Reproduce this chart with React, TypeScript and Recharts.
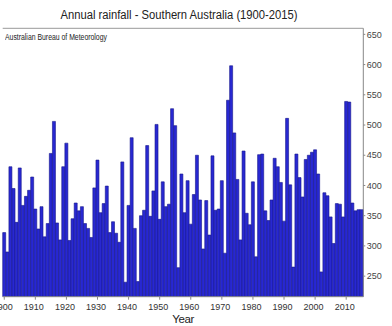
import React from "react";
import { BarChart, Bar, XAxis, YAxis, ReferenceLine } from "recharts";

// annual rainfall (mm), one array per decade
const firstYear = 1900;
const rain1900s = [322, 290, 431, 395, 339, 429, 367, 382, 392, 414];
const rain1910s = [361, 328, 365, 315, 337, 453, 506, 338, 310, 431];
const rain1920s = [470, 309, 345, 371, 358, 365, 337, 329, 314, 396];
const rain1930s = [442, 355, 370, 399, 322, 340, 321, 306, 439, 240];
const rain1940s = [367, 479, 329, 241, 350, 359, 466, 349, 391, 501];
const rain1950s = [344, 406, 365, 369, 527, 499, 264, 419, 355, 408];
const rain1960s = [336, 385, 450, 376, 295, 375, 318, 449, 359, 361];
const rain1970s = [408, 288, 541, 598, 487, 410, 310, 457, 354, 335];
const rain1980s = [406, 282, 451, 452, 358, 342, 376, 445, 431, 405];
const rain1990s = [341, 511, 401, 265, 452, 413, 381, 443, 450, 455];
const rain2000s = [459, 419, 257, 388, 383, 348, 304, 370, 369, 348];
const rain2010s = [539, 538, 371, 358, 360, 360];

const yearTicks = [1900, 1910, 1920, 1930, 1940, 1950, 1960, 1970, 1980, 1990, 2000, 2010];
const rainTicks = [250, 300, 350, 400, 450, 500, 550, 600, 650];

const rainfall = [
  ...rain1900s, ...rain1910s, ...rain1920s, ...rain1930s, ...rain1940s, ...rain1950s,
  ...rain1960s, ...rain1970s, ...rain1980s, ...rain1990s, ...rain2000s, ...rain2010s,
];
const data = rainfall.map((mm, i) => ({ year: firstYear + i, mm }));

const font = "'Liberation Sans', Arial, sans-serif";

export default function App() {
  return (
    <div
      style={{
        position: "absolute",
        left: 0,
        top: 0,
        width: 392,
        height: 326,
        background: "#fff",
        fontFamily: font,
      }}
    >
      {/* the original uses a condensed face, so squeeze the regular one */}
      <div
        style={{
          position: "absolute",
          top: 7,
          left: 0,
          width: 358,
          textAlign: "center",
          fontSize: 13.7,
          color: "#222",
          whiteSpace: "nowrap",
          transform: "scaleX(0.82)",
          transformOrigin: "179px 0",
        }}
      >
        Annual rainfall - Southern Australia (1900-2015)
      </div>
      <div
        style={{
          position: "absolute",
          top: 32,
          left: 5,
          fontSize: 8.4,
          color: "#222",
          whiteSpace: "nowrap",
          transform: "scaleX(0.82)",
          transformOrigin: "0 0",
          zIndex: 1,
        }}
      >
        Australian Bureau of Meteorology
      </div>
      <BarChart
        width={392}
        height={326}
        data={data}
        margin={{ top: 28.3, right: 0, bottom: 0, left: 2.7 }}
        barCategoryGap={0}
        barGap={0}
      >
        <XAxis
          dataKey="year"
          ticks={yearTicks}
          interval={0}
          height={29.3}
          tickSize={3}
          tickMargin={4}
          axisLine={{ stroke: "#888" }}
          tickLine={{ stroke: "#888" }}
          tick={{ fill: "#333", fontSize: 9, fontFamily: font, dx: -1.5 }}
          label={{
            value: "Year",
            position: "insideBottom",
            offset: 3.3,
            style: { fontFamily: font, fontSize: 11.5, letterSpacing: -0.4, fill: "#222" },
          }}
        />
        <YAxis
          orientation="right"
          type="number"
          width={28.7}
          domain={[216, 660]}
          ticks={rainTicks}
          allowDataOverflow
          tickSize={2}
          tickMargin={1.5}
          axisLine={{ stroke: "#888" }}
          tickLine={{ stroke: "#888" }}
          tick={{ fill: "#444", fontSize: 9, fontFamily: font }}
        />
        <ReferenceLine y={660} stroke="#999" />
        <Bar
          dataKey="mm"
          fill="#2828d2"
          stroke="#16168a"
          strokeWidth={0.6}
          isAnimationActive={false}
        />
      </BarChart>
    </div>
  );
}
